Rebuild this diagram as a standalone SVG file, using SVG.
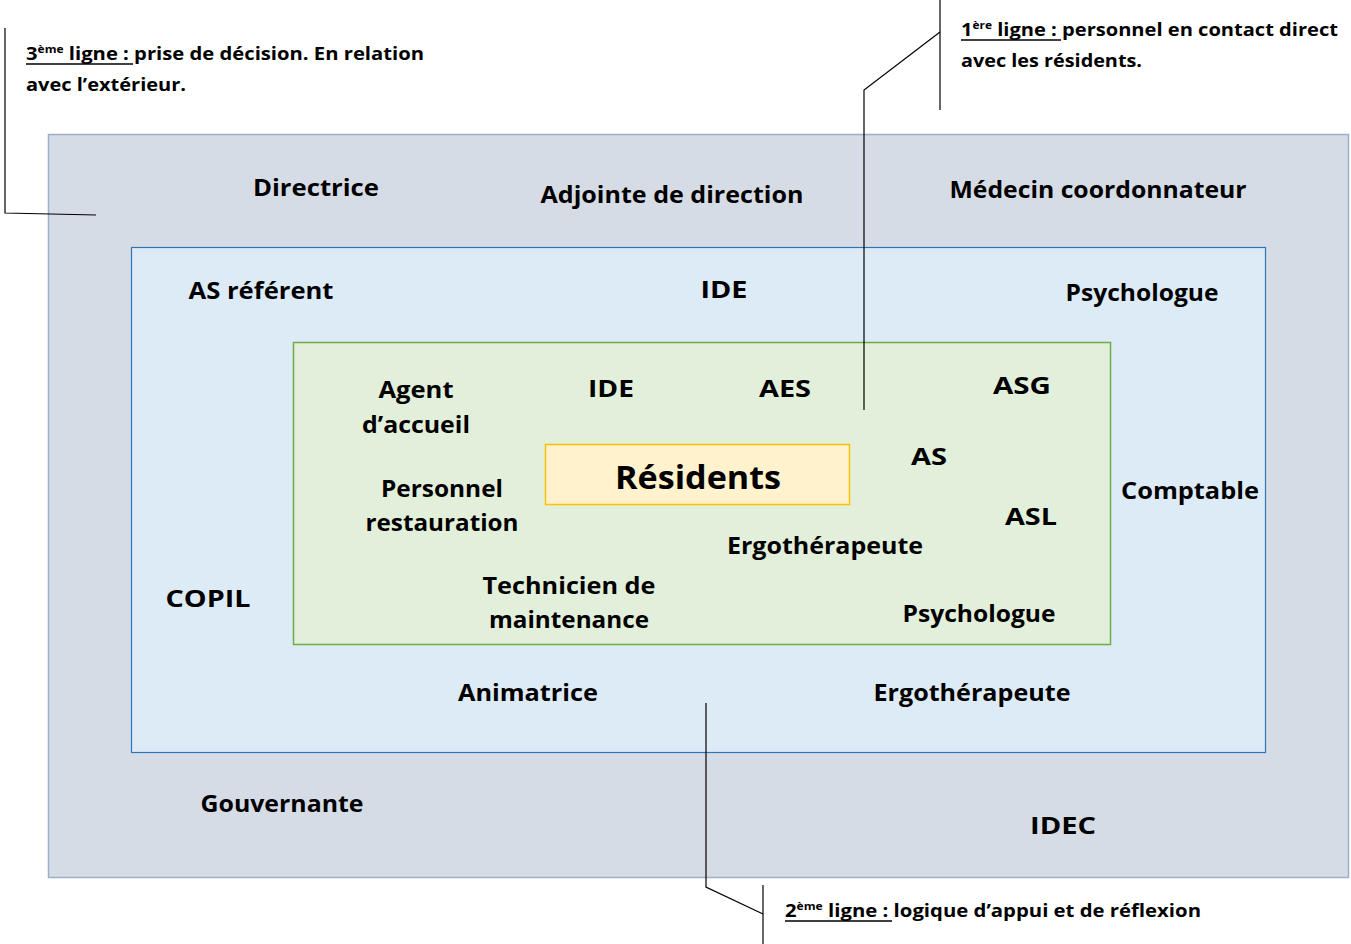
<svg xmlns="http://www.w3.org/2000/svg" width="1351" height="944" viewBox="0 0 1351 944">
  <style>
    .lbl { font-family: "Open Sans", Lato, "Liberation Sans", sans-serif; font-weight: 700; font-size: 23.5px; fill: #000; text-anchor: middle; }
    .note { font-family: "Open Sans", Lato, "Liberation Sans", sans-serif; font-weight: 700; font-size: 18.5px; fill: #000; }
    .sup { font-size: 11px; }
    .lead { fill: none; stroke: #000; stroke-width: 1.2; }
    .uline { stroke: #000; stroke-width: 1.6; }
  </style>

  <rect width="1351" height="944" fill="#fff"/>

  <!-- third line: management -->
  <g id="third-line">
    <rect x="48.5" y="134.5" width="1300" height="743" fill="#D6DCE5" stroke="#9DB0C8" stroke-width="1.5"/>
    <text class="lbl" x="316" y="196" textLength="126" lengthAdjust="spacingAndGlyphs">Directrice</text>
    <text class="lbl" x="672" y="203" textLength="263" lengthAdjust="spacingAndGlyphs">Adjointe de direction</text>
    <text class="lbl" x="1098" y="198" textLength="297" lengthAdjust="spacingAndGlyphs">Médecin coordonnateur</text>
    <text class="lbl" x="282" y="812" textLength="163" lengthAdjust="spacingAndGlyphs">Gouvernante</text>
    <text class="lbl" x="1063" y="834" textLength="66" lengthAdjust="spacingAndGlyphs">IDEC</text>
  </g>

  <!-- second line: support -->
  <g id="second-line">
    <rect x="131.5" y="247.5" width="1134" height="505" fill="#DDEBF7" stroke="#2E75B6" stroke-width="1.2"/>
    <text class="lbl" x="261" y="299" textLength="145" lengthAdjust="spacingAndGlyphs">AS référent</text>
    <text class="lbl" x="724" y="298" textLength="47" lengthAdjust="spacingAndGlyphs">IDE</text>
    <text class="lbl" x="1142" y="301" textLength="153" lengthAdjust="spacingAndGlyphs">Psychologue</text>
    <text class="lbl" x="1190" y="499" textLength="138" lengthAdjust="spacingAndGlyphs">Comptable</text>
    <text class="lbl" x="208" y="607" textLength="85" lengthAdjust="spacingAndGlyphs">COPIL</text>
    <text class="lbl" x="528" y="701" textLength="140" lengthAdjust="spacingAndGlyphs">Animatrice</text>
    <text class="lbl" x="972" y="701" textLength="197" lengthAdjust="spacingAndGlyphs">Ergothérapeute</text>
  </g>

  <!-- first line: direct contact -->
  <g id="first-line">
    <rect x="293.5" y="342.5" width="817" height="302" fill="#E2EFDA" stroke="#70AD47" stroke-width="1.5"/>
    <text class="lbl" x="416" y="398" textLength="75" lengthAdjust="spacingAndGlyphs">Agent</text>
    <text class="lbl" x="416" y="433" textLength="108" lengthAdjust="spacingAndGlyphs">d’accueil</text>
    <text class="lbl" x="611" y="397" textLength="46" lengthAdjust="spacingAndGlyphs">IDE</text>
    <text class="lbl" x="785" y="397" textLength="52" lengthAdjust="spacingAndGlyphs">AES</text>
    <text class="lbl" x="1022" y="394" textLength="58" lengthAdjust="spacingAndGlyphs">ASG</text>
    <text class="lbl" x="929" y="465" textLength="36" lengthAdjust="spacingAndGlyphs">AS</text>
    <text class="lbl" x="442" y="497" textLength="122" lengthAdjust="spacingAndGlyphs">Personnel</text>
    <text class="lbl" x="442" y="531" textLength="153" lengthAdjust="spacingAndGlyphs">restauration</text>
    <text class="lbl" x="1031" y="525" textLength="52" lengthAdjust="spacingAndGlyphs">ASL</text>
    <text class="lbl" x="825" y="554" textLength="196" lengthAdjust="spacingAndGlyphs">Ergothérapeute</text>
    <text class="lbl" x="569" y="594" textLength="173" lengthAdjust="spacingAndGlyphs">Technicien de</text>
    <text class="lbl" x="569" y="628" textLength="160" lengthAdjust="spacingAndGlyphs">maintenance</text>
    <text class="lbl" x="979" y="622" textLength="153" lengthAdjust="spacingAndGlyphs">Psychologue</text>
  </g>

  <g id="residents">
    <rect x="545.5" y="444.5" width="304" height="60" fill="#FFF2CC" stroke="#FFC000" stroke-width="1.5"/>
    <text class="lbl" x="698" y="489" textLength="166" lengthAdjust="spacingAndGlyphs" style="font-size:32px">Résidents</text>
  </g>

  <!-- callout leaders -->
  <g id="connectors">
    <polyline class="lead" points="5,28 5,213 96,215"/>
    <line class="lead" x1="940" y1="0" x2="940" y2="110"/>
    <polyline class="lead" points="940,32 864,90 864,410"/>
    <line class="lead" x1="763" y1="885" x2="763" y2="944"/>
    <polyline class="lead" points="706,703 706,887 763,914"/>
  </g>

  <!-- callout notes -->
  <g id="note-third">
    <text class="note" x="26" y="60" textLength="398" lengthAdjust="spacingAndGlyphs">3<tspan class="sup" dy="-7">ème</tspan><tspan dy="7"> ligne :</tspan> prise de décision. En relation</text>
    <line class="uline" x1="26" y1="64" x2="133" y2="64"/>
    <text class="note" x="26" y="91" textLength="160" lengthAdjust="spacingAndGlyphs">avec l’extérieur.</text>
  </g>
  <g id="note-first">
    <text class="note" x="961" y="36" textLength="377" lengthAdjust="spacingAndGlyphs">1<tspan class="sup" dy="-7">ère</tspan><tspan dy="7"> ligne :</tspan> personnel en contact direct</text>
    <line class="uline" x1="961" y1="40" x2="1061" y2="40"/>
    <text class="note" x="961" y="67" textLength="181" lengthAdjust="spacingAndGlyphs">avec les résidents.</text>
  </g>
  <g id="note-second">
    <text class="note" x="785" y="917" textLength="416" lengthAdjust="spacingAndGlyphs">2<tspan class="sup" dy="-7">ème</tspan><tspan dy="7"> ligne :</tspan> logique d’appui et de réflexion</text>
    <line class="uline" x1="785" y1="921" x2="892" y2="921"/>
  </g>
</svg>
